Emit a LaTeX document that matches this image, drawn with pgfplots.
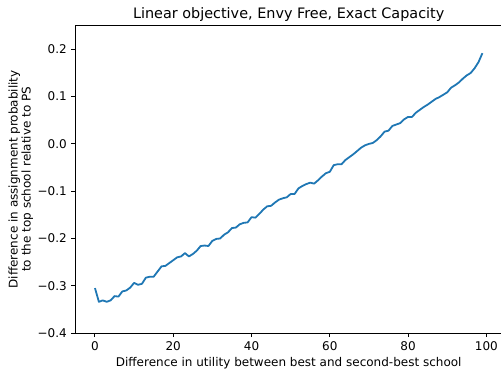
\documentclass[border=0pt]{standalone}
\usepackage{pgfplots}
\pgfplotsset{compat=1.18}
\usepackage{fontspec}
\setmainfont{DejaVu Sans}
\definecolor{mplblue}{RGB}{31,119,180}
\begin{document}
\begin{tikzpicture}
\begin{axis}[
  at={(0,0)}, anchor=south west,
  scale only axis, width=426.2pt, height=307.3pt,
  xmin=-4.95, xmax=103.95, ymin=-0.4, ymax=0.25,
  xtick={0,20,40,60,80,100},
  xticklabels={0,20,40,60,80,100},
  ytick={-0.4,-0.3,-0.2,-0.1,0,0.1,0.2},
  yticklabels={−0.4,−0.3,−0.2,−0.1,0.0,0.1,0.2},
  xtick pos=left, ytick pos=left,
  tick align=outside, major tick length=4.2pt,
  every tick/.style={black, line width=0.96pt},
  axis line style={black, line width=0.96pt},
  xticklabel style={font=\fontsize{12}{14}\selectfont, anchor=north, inner sep=0pt, yshift=-4.6pt},
  yticklabel style={font=\fontsize{12}{14}\selectfont, anchor=east, inner sep=0pt, xshift=-4.4pt},
  every axis x label/.style={at={(rel axis cs:0.5,0)}, anchor=base, yshift=-33pt, inner sep=0pt, font=\fontsize{12}{14}\selectfont},
  every axis y label/.style={at={(rel axis cs:0,0.5)}, xshift=-44.9pt, rotate=90, anchor=base, align=center, inner sep=0pt, font=\fontsize{12}{13}\selectfont},
  every axis title/.style={at={(rel axis cs:0.5,1)}, anchor=base, yshift=7.7pt, inner sep=0pt, font=\fontsize{14.4}{17}\selectfont},
  title={Linear objective, Envy Free, Exact Capacity},
  xlabel={Difference in utility between best and second-best school},
  ylabel={Difference in assignment probability\\to the top school relative to PS},
]
\addplot[mplblue, line width=1.8pt, line join=round, mark=none] table[x=x, y=y] {
x y
0 -0.305
1 -0.334
2 -0.331
3 -0.334
4 -0.331
5 -0.322
6 -0.323
7 -0.312
8 -0.310
9 -0.304
10 -0.294
11 -0.298
12 -0.296
13 -0.283
14 -0.281
15 -0.281
16 -0.270
17 -0.259
18 -0.258
19 -0.252
20 -0.246
21 -0.240
22 -0.238
23 -0.231
24 -0.238
25 -0.233
26 -0.226
27 -0.216
28 -0.215
29 -0.216
30 -0.205
31 -0.201
32 -0.200
33 -0.192
34 -0.187
35 -0.178
36 -0.177
37 -0.170
38 -0.167
39 -0.166
40 -0.155
41 -0.156
42 -0.148
43 -0.139
44 -0.132
45 -0.131
46 -0.124
47 -0.118
48 -0.115
49 -0.113
50 -0.106
51 -0.106
52 -0.094
53 -0.089
54 -0.085
55 -0.082
56 -0.084
57 -0.077
58 -0.069
59 -0.062
60 -0.059
61 -0.045
62 -0.043
63 -0.043
64 -0.034
65 -0.028
66 -0.022
67 -0.015
68 -0.008
69 -0.003
70 0.000
71 0.002
72 0.008
73 0.016
74 0.026
75 0.028
76 0.038
77 0.041
78 0.044
79 0.052
80 0.057
81 0.057
82 0.066
83 0.072
84 0.078
85 0.083
86 0.089
87 0.095
88 0.099
89 0.104
90 0.109
91 0.119
92 0.124
93 0.130
94 0.138
95 0.145
96 0.150
97 0.160
98 0.173
99 0.192
};
\end{axis}
\pgfresetboundingbox
\useasboundingbox (-75.6pt,-35pt) rectangle (425.4pt,333pt);
\end{tikzpicture}
\end{document}
